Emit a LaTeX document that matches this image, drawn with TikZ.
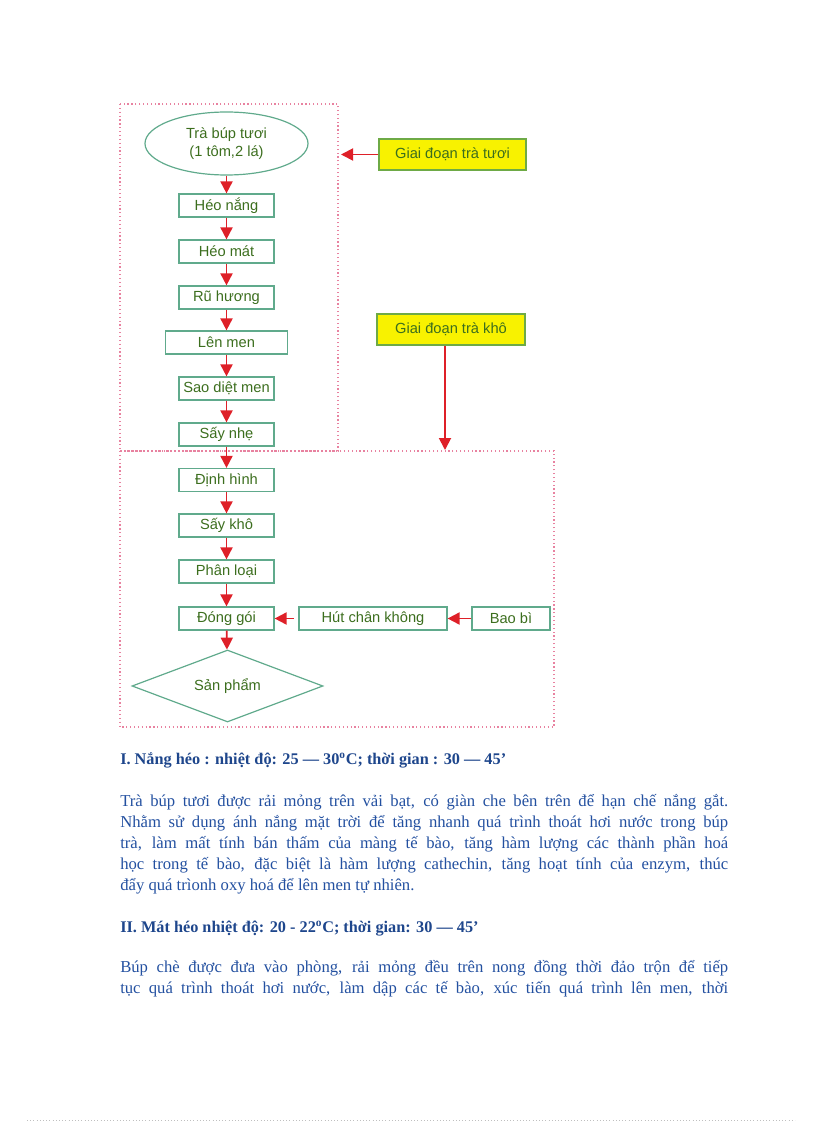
\documentclass[tikz,border=0pt]{standalone}
\usepackage{fontspec}
\setmainfont{Liberation Serif}
\newfontfamily\flowfont{Liberation Sans}
\usetikzlibrary{shapes.geometric,arrows.meta}

\definecolor{framepink}{RGB}{232,130,160}
\definecolor{boxline}{RGB}{96,170,140}
\definecolor{boxtext}{RGB}{60,110,30}
\definecolor{arrowred}{RGB}{222,32,40}
\definecolor{tagyellow}{RGB}{248,242,0}
\definecolor{tagline}{RGB}{110,170,70}
\definecolor{headblue}{RGB}{30,70,140}
\definecolor{bodyblue}{RGB}{35,80,160}

\tikzset{
  stepbox/.style={draw=boxline, line width=0.9pt, minimum width=71.25pt, minimum height=17.25pt, inner sep=0pt, text=boxtext, font=\flowfont\fontsize{11}{13}\selectfont},
  stagetag/.style={draw=tagline, fill=tagyellow, line width=0.9pt, minimum width=110.25pt, minimum height=23.25pt, inner sep=0pt, text=boxtext, font=\flowfont\fontsize{11}{13}\selectfont},
  flowarrow/.style={draw=arrowred, line width=1.4pt, -{Triangle[length=9pt,width=9pt]}},
  framebox/.style={draw=framepink, dotted, line width=0.9pt},
  headline/.style={anchor=base west, inner sep=0pt, text=headblue, font=\bfseries\fontsize{12.2}{15.75}\selectfont},
  bodypar/.style={anchor=base west, inner sep=0pt, text width=456pt, align=justify, text=bodyblue, font=\fontsize{12.5}{15.75}\selectfont},
}

\begin{document}
\begin{tikzpicture}[x=0.75pt,y=0.75pt,yscale=-1,xscale=1]
\useasboundingbox (0,0) rectangle (816,1123);

%Shape: dotted frames
\draw [framebox] (120,104) rectangle (338,451) ;
\draw [framebox] (120,451) rectangle (554,727) ;

% Flow Nodes
\node (fresh) at (226.5,143.5) [stepbox, ellipse, minimum width=122.25pt, minimum height=47.25pt, align=center] {Trà búp tươi\\(1 tôm,2 lá)};
\node (sunwilt) at (226.5,205.5) [stepbox] {Héo nắng};
\node (coolwilt) at (226.5,251.5) [stepbox] {Héo mát};
\node (shake) at (226.5,297.5) [stepbox] {Rũ hương};
\node (ferment) at (226.5,342.5) [stepbox, minimum width=91.5pt] {Lên men};
\node (fix) at (226.5,388.5) [stepbox] {Sao diệt men};
\node (lightdry) at (226.5,434.5) [stepbox] {Sấy nhẹ};
\node (shape) at (226.5,480) [stepbox] {Định hình};
\node (dry) at (226.5,525.5) [stepbox] {Sấy khô};
\node (sort) at (226.5,571.5) [stepbox] {Phân loại};
\node (pack) at (226.5,618.5) [stepbox] {Đóng gói};
\node (vacuum) at (373,618.5) [stepbox, minimum width=111pt] {Hút chân không};
\node (bag) at (511,618.5) [stepbox, minimum width=58.5pt] {Bao bì};
\node (product) at (227.5,686) [stepbox, diamond, aspect=2.65, minimum width=143.25pt, minimum height=54pt] {Sản phẩm};

% Stage Tags
\node (freshtag) at (452.5,154.5) [stagetag] {Giai đoạn trà tươi};
\node (drytag) at (451,329.5) [stagetag, minimum width=111pt] {Giai đoạn trà khô};
\coordinate (freshend) at (341,154.5);
\coordinate (dryend) at (445,450);

% Arrows
\draw [flowarrow] (fresh) -- (sunwilt);
\draw [flowarrow] (sunwilt) -- (coolwilt);
\draw [flowarrow] (coolwilt) -- (shake);
\draw [flowarrow] (shake) -- (ferment);
\draw [flowarrow] (ferment) -- (fix);
\draw [flowarrow] (fix) -- (lightdry);
\draw [flowarrow] (lightdry) -- (shape);
\draw [flowarrow] (shape) -- (dry);
\draw [flowarrow] (dry) -- (sort);
\draw [flowarrow] (sort) -- (pack);
\draw [flowarrow] (pack) -- (product);
\draw [flowarrow, shorten <=3.5pt] (vacuum) -- (pack);
\draw [flowarrow] (bag) -- (vacuum);
\draw [flowarrow] (freshtag) -- (freshend);
\draw [flowarrow] (drytag.south -| dryend) -- (dryend);

% Text Node
\node (headone) at (120,764) [headline] {I. Nắng héo : nhiệt độ: 25 — 30\textsuperscript{o}C; thời gian : 30 — 45’};
% Text Node
\node (parone) at (120,806) [bodypar] {Trà búp tươi được rải mỏng trên vải bạt, có giàn che bên trên để hạn chế nắng gắt.\linebreak Nhằm sử dụng ánh nắng mặt trời để tăng nhanh quá trình thoát hơi nước trong búp\linebreak trà, làm mất tính bán thấm của màng tế bào, tăng hàm lượng các thành phần hoá\linebreak học trong tế bào, đặc biệt là hàm lượng cathechin, tăng hoạt tính của enzym, thúc\linebreak đẩy quá trìonh oxy hoá để lên men tự nhiên.};
% Text Node
\node (headtwo) at (120,932) [headline] {II. Mát héo nhiệt độ: 20 - 22\textsuperscript{o}C; thời gian: 30 — 45’};
% Text Node
\node (partwo) at (120,972) [bodypar] {\parfillskip=0pt Búp chè được đưa vào phòng, rải mỏng đều trên nong đồng thời đảo trộn để tiếp\linebreak tục quá trình thoát hơi nước, làm dập các tế bào, xúc tiến quá trình lên men, thời\par};

%Shape: faint page rule
\draw [black!25, dotted] (27,1120) -- (795,1120) ;

\end{tikzpicture}
\end{document}
